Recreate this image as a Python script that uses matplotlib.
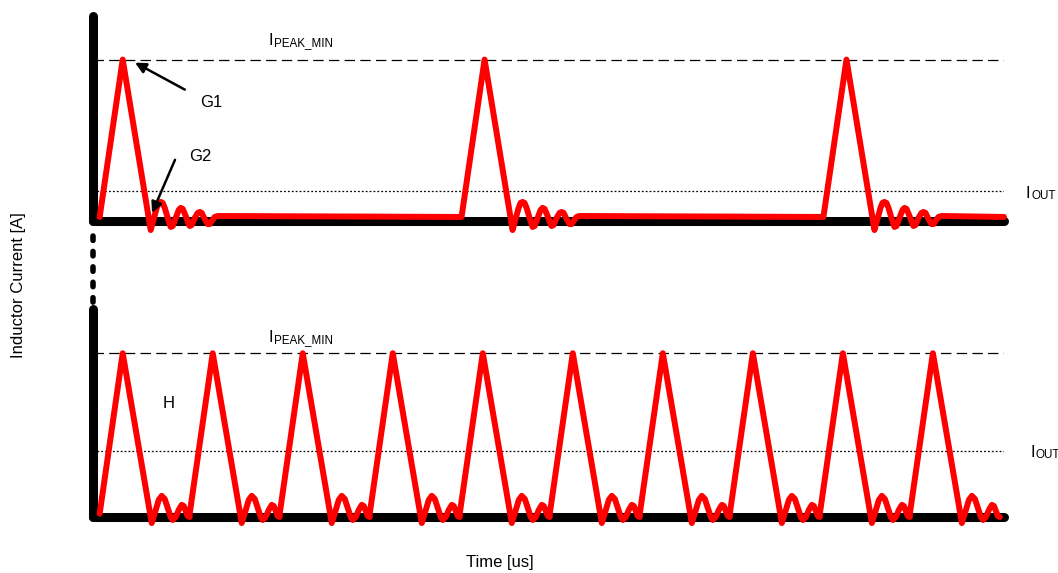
import matplotlib.pyplot as plt
from matplotlib.lines import Line2D

plt.rcParams['font.family'] = ['Liberation Sans', 'DejaVu Sans']
plt.rcParams['lines.scale_dashes'] = False

# ---- data (time in us, current normalised to I_PEAK_MIN) ----
i_peak_min = 1.0
i_out_top = 0.186
i_out_bottom = 0.405
rise_time = 0.256

top_peaks = [0.33, 4.35, 8.37]
top_level = 0.025
top_end = 10.12
top_ring_t = [0.311, 0.344, 0.378, 0.400, 0.422, 0.444, 0.467, 0.500, 0.533, 0.556,
              0.589, 0.622, 0.644, 0.667, 0.700, 0.733, 0.744, 0.767, 0.800, 0.833,
              0.856, 0.878, 0.911, 0.944, 0.967, 0.989, 1.022, 1.056]
top_ring_i = [-0.056, 0.012, 0.081, 0.112, 0.118, 0.112, 0.081, 0.019, -0.037, -0.031,
              0.019, 0.068, 0.081, 0.075, 0.031, -0.019, -0.031, -0.025, 0.019, 0.050,
              0.056, 0.050, 0.012, -0.019, -0.019, 0.0, 0.025, 0.031]

bottom_peaks = [0.33, 1.33, 2.33, 3.33, 4.33, 5.33, 6.33, 7.33, 8.33, 9.33]
bottom_level = 0.02
bottom_ring_t = [0.322, 0.367, 0.400, 0.433, 0.467, 0.500, 0.533, 0.556, 0.589, 0.622,
                 0.656, 0.678, 0.700, 0.722, 0.744]
bottom_ring_i = [-0.037, 0.043, 0.104, 0.129, 0.110, 0.055, 0.0, -0.018, 0.0, 0.043,
                 0.074, 0.067, 0.037, 0.006, 0.0]


def waveform(peaks, ring_t, ring_i, level, t_end=None):
    t, i = [], []
    for p in peaks:
        t += [p - rise_time, p] + [p + d for d in ring_t]
        i += [level, i_peak_min] + list(ring_i)
    if t_end is not None:
        t.append(t_end)
        i.append(level)
    return t, i


def sub_label(ax, x, y, main, sub):
    ax.text(x, y, main, fontsize=12, ha='left', va='baseline')
    ax.annotate(sub, (x, y), xytext=(4.0, -0.8), textcoords='offset points',
                fontsize=8.4, ha='left', va='baseline', annotation_clip=False)


W, H = 1058, 573
fig = plt.figure(figsize=(W / 100, H / 100), dpi=100)
ax_top = fig.add_axes([93 / W, 1 - 221 / H, 911 / W, 205 / H])
ax_bot = fig.add_axes([93 / W, 1 - 517 / H, 911 / W, 208 / H])

for ax in (ax_top, ax_bot):
    ax.set_xlim(0, 10.12)
    ax.set_ylim(0, 1.27)
    ax.set_xticks([])
    ax.set_yticks([])
    ax.patch.set_visible(False)
    for s in ('top', 'right'):
        ax.spines[s].set_visible(False)
    for s in ('left', 'bottom'):
        ax.spines[s].set_linewidth(6.5)
        ax.spines[s].set_capstyle('round')
        ax.spines[s].set_color('black')

# top panel
ax_top.axhline(i_peak_min, color='black', lw=0.9, ls=(0, (7.5, 3.8)))
ax_top.axhline(i_out_top, color='black', lw=0.9, ls=(0, (1.3, 1.5)))
t, i = waveform(top_peaks, top_ring_t, top_ring_i, top_level, top_end)
ax_top.plot(t, i, color='#ff0000', lw=4.3, solid_joinstyle='round',
            solid_capstyle='round', clip_on=False, zorder=4)
sub_label(ax_top, 1.95, 1.093, 'I', 'PEAK_MIN')
sub_label(ax_top, 10.36, 0.143, 'I', 'OUT')
ax_top.text(1.31, 0.733, 'G1', fontsize=12, ha='center', va='center')
ax_top.text(1.19, 0.40, 'G2', fontsize=12, ha='center', va='center')
arrow = dict(arrowstyle='-|>', color='black', lw=1.8, mutation_scale=16,
             shrinkA=0, shrinkB=0)
ax_top.annotate('', xy=(0.467, 0.981), xytext=(1.02, 0.814), arrowprops=arrow)
ax_top.annotate('', xy=(0.656, 0.05), xytext=(0.911, 0.379), arrowprops=arrow,
                zorder=5)

# bottom panel
ax_bot.axhline(i_peak_min, color='black', lw=0.9, ls=(0, (7.5, 3.8)))
ax_bot.axhline(i_out_bottom, color='black', lw=0.9, ls=(0, (1.3, 1.5)))
t, i = waveform(bottom_peaks, bottom_ring_t, bottom_ring_i, bottom_level)
ax_bot.plot(t, i, color='#ff0000', lw=4.3, solid_joinstyle='round',
            solid_capstyle='round', clip_on=False, zorder=4)
sub_label(ax_bot, 1.95, 1.067, 'I', 'PEAK_MIN')
sub_label(ax_bot, 10.41, 0.368, 'I', 'OUT')
ax_bot.text(0.84, 0.693, 'H', fontsize=12, ha='center', va='center')

# broken y axis between the panels
brk = Line2D([93 / W, 93 / W], [1 - 236 / H, 1 - 305 / H], transform=fig.transFigure,
             color='black', lw=4.0, dash_capstyle='round', dashes=(3.2, 7.9))
fig.add_artist(brk)

fig.text(19 / W, 1 - 285 / H, 'Inductor Current [A]', rotation=90, fontsize=12,
         ha='center', va='center')
fig.text(500 / W, 1 - 562 / H, 'Time [us]', fontsize=12, ha='center', va='center')

fig.savefig('out.png', dpi=100)
